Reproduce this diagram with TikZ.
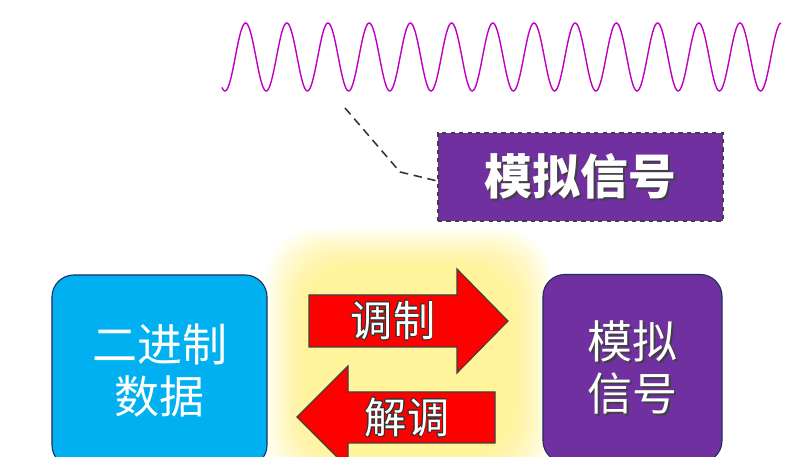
\documentclass[tikz,border=0pt]{standalone}
\usepackage{fontspec}
\newfontfamily\cjk{Noto Sans CJK SC}
\usepackage{contour}
\contourlength{0.7pt}
\usetikzlibrary{positioning}
\definecolor{skyblue}{HTML}{00B0F0}
\definecolor{sigpurple}{HTML}{7030A0}
\definecolor{wavemag}{HTML}{C000C0}
\definecolor{navyline}{HTML}{1F2F5F}
\definecolor{glowyellow}{HTML}{FFF45A}
\definecolor{arrowred}{HTML}{FF0000}
\newcommand{\shadowed}[1]{\makebox[0pt][l]{\kern1.3pt\raisebox{-1.3pt}{\textcolor{black!75}{#1}}}#1}
\tikzset{
    box/.style={draw=navyline, line width=0.8pt, rounded corners=0.55cm, align=center, text=white, font=\cjk\fontsize{32}{37}\selectfont},
    databox/.style={box, fill=skyblue, minimum width=5.375cm, minimum height=4.8cm},
    analogbox/.style={box, fill=sigpurple, minimum width=4.475cm, minimum height=4.7cm},
    tagbox/.style={draw=black!75, dashed, line width=0.8pt, fill=sigpurple, text=white, minimum width=7.125cm, minimum height=2.2cm, font=\cjk\bfseries\fontsize{34}{34}\selectfont},
    wave/.style={wavemag, line width=1pt},
    leader/.style={black!80, dash pattern=on 6pt off 4pt, line width=1.1pt},
    bigarrow/.style={fill=arrowred, draw=black!75, line width=0.8pt},
    arrowtext/.style={text=white, inner sep=0pt, font=\cjk\fontsize{30}{30}\selectfont}
}
\begin{document}
\begin{tikzpicture}[x=0.025cm, y=-0.025cm]
    \clip (0,0) rectangle (797,457);
    \fill[white] (0,0) rectangle (797,457);

    % carrier wave
    \draw[wave] plot[domain=222:781, samples=500, smooth] (\x, {57 - 34*cos((\x-245.6)/41.2*360)});

    % soft glow behind the arrows
    \foreach \g in {1,...,14}
      \fill[glowyellow, opacity=0.06, rounded corners=36pt] (306-\g*2.8, 268-\g*2.8) rectangle (512+\g*2.8, 452+\g*2.8);

    \node[tagbox] (tag) at (580.5,177) {\shadowed{模拟信号}};
    \coordinate (wavept) at (345,108);
    \coordinate (bend) at (400,172);
    \draw[leader] (wavept) -- (bend) -- ([yshift=-0.1cm]tag.west);

    \node[databox] (bin) at (159.5,371) {二进制\\数据};
    \node[analogbox] (ana) at (632.5,368.5) {\shadowed{模拟}\\\shadowed{信号}};

    % modulation / demodulation arrows
    \draw[bigarrow] (309,295) -- (457,295) -- (457,269) -- (508,321) -- (457,373) -- (457,347) -- (309,347) -- cycle;
    \node[arrowtext] (mod) at (393,321) {\contour{black!80}{调制}};
    \draw[bigarrow] (495,392) -- (348,392) -- (348,366) -- (297,417) -- (348,468) -- (348,443) -- (495,443) -- cycle;
    \node[arrowtext] (demod) at (407,418) {\contour{black!80}{解调}};
\end{tikzpicture}
\end{document}
